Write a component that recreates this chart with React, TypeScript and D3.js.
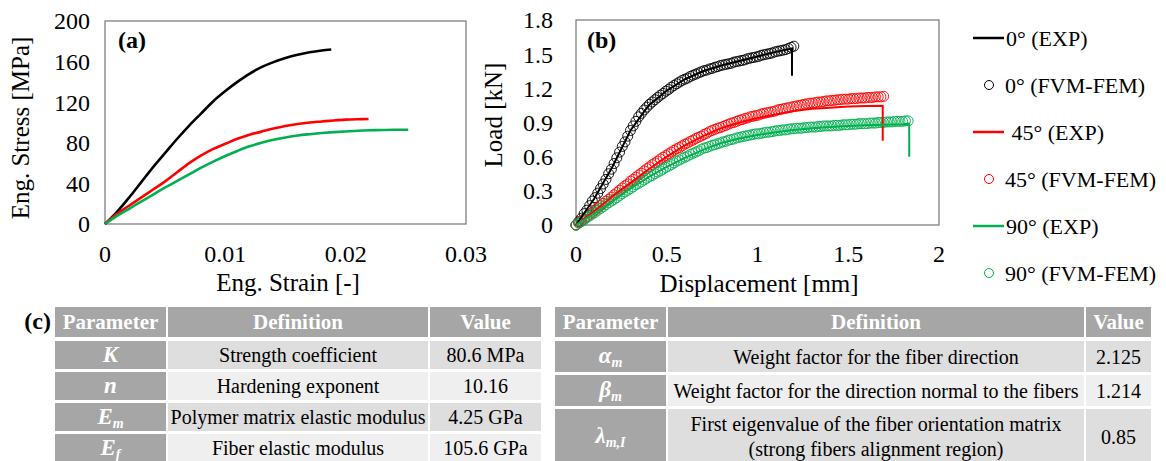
import React from "react";
import * as d3 from "d3";

const FONT = "'Liberation Serif', 'Times New Roman', serif";
const BLACK = "#000000";
const RED = "#ff0000";
const GREEN = "#00b050";
const FRAME = "#767676";

// (a) engineering stress-strain, EXP
const strain0 = [0, 0.001, 0.002, 0.003, 0.004, 0.005, 0.006, 0.007, 0.008, 0.009, 0.01, 0.011, 0.012, 0.013, 0.014, 0.015, 0.016, 0.017, 0.018, 0.0188];
const stress0 = [0, 12, 26, 41, 56, 70, 84, 97, 109, 121, 131, 140, 148, 154.5, 159.5, 163.5, 166.7, 169.2, 171, 172];
const strain45 = [0, 0.001, 0.002, 0.003, 0.004, 0.005, 0.006, 0.007, 0.008, 0.009, 0.01, 0.011, 0.012, 0.013, 0.014, 0.015, 0.016, 0.017, 0.018, 0.019, 0.02, 0.021, 0.0219];
const stress45 = [0, 10, 18, 26, 34, 42, 51, 60, 67.5, 74, 79, 84, 88, 91, 94, 96.5, 98.5, 100, 101, 102, 102.8, 103.2, 103.4];
const strain90 = [0, 0.001, 0.002, 0.003, 0.004, 0.005, 0.006, 0.007, 0.008, 0.009, 0.01, 0.011, 0.012, 0.013, 0.014, 0.015, 0.016, 0.017, 0.018, 0.019, 0.02, 0.021, 0.022, 0.023, 0.024, 0.0252];
const stress90 = [0, 8, 15, 22, 29, 36, 42.5, 49, 55.5, 61.5, 67, 72, 76.5, 80, 83, 85.3, 87.2, 88.5, 89.6, 90.5, 91.2, 91.8, 92.3, 92.6, 92.8, 92.9];

const strainTicks = [0, 0.01, 0.02, 0.03];
const stressTicks = [0, 40, 80, 120, 160, 200];

// (b) load-displacement; FVM-FEM markers share one displacement grid
const femDisp = [
  0, 0.015, 0.03, 0.045, 0.06, 0.075, 0.09, 0.105, 0.12, 0.135,
  0.15, 0.165, 0.18, 0.195, 0.21, 0.225, 0.24, 0.255, 0.27, 0.285,
  0.3, 0.315, 0.33, 0.345, 0.36, 0.375, 0.39, 0.405, 0.42, 0.435,
  0.45, 0.465, 0.48, 0.495, 0.51, 0.525, 0.54, 0.555, 0.57, 0.585,
  0.6, 0.615, 0.63, 0.645, 0.66, 0.675, 0.69, 0.705, 0.72, 0.735,
  0.75, 0.765, 0.78, 0.795, 0.81, 0.825, 0.84, 0.855, 0.87, 0.885,
  0.9, 0.915, 0.93, 0.945, 0.96, 0.975, 0.99, 1.005, 1.02, 1.035,
  1.05, 1.065, 1.08, 1.095, 1.11, 1.125, 1.14, 1.155, 1.17, 1.185,
  1.2, 1.215, 1.23, 1.245, 1.26, 1.275, 1.29, 1.305, 1.32, 1.335,
  1.35, 1.365, 1.38, 1.395, 1.41, 1.425, 1.44, 1.455, 1.47, 1.485,
  1.5, 1.515, 1.53, 1.545, 1.56, 1.575, 1.59, 1.605, 1.62, 1.635,
  1.65, 1.665, 1.68, 1.695, 1.71, 1.725, 1.74, 1.755, 1.77, 1.785,
  1.8, 1.815, 1.83,
];
const femLoad0 = [
  0, 0.03, 0.06, 0.1, 0.13, 0.17, 0.21, 0.24, 0.28, 0.32,
  0.36, 0.4, 0.45, 0.49, 0.54, 0.59, 0.64, 0.69, 0.73, 0.78,
  0.83, 0.87, 0.91, 0.95, 0.98, 1.01, 1.035, 1.06, 1.08, 1.1,
  1.12, 1.14, 1.155, 1.175, 1.19, 1.21, 1.225, 1.24, 1.255, 1.27,
  1.28, 1.29, 1.305, 1.315, 1.325, 1.335, 1.345, 1.355, 1.36, 1.37,
  1.375, 1.385, 1.39, 1.4, 1.405, 1.41, 1.415, 1.42, 1.43, 1.435,
  1.44, 1.445, 1.45, 1.46, 1.465, 1.47, 1.475, 1.48, 1.49, 1.495,
  1.5, 1.505, 1.51, 1.52, 1.525, 1.53, 1.535, 1.54, 1.55, 1.56,
  1.57,
];
const femLoad45 = [
  0, 0.02, 0.035, 0.055, 0.07, 0.095, 0.11, 0.13, 0.15, 0.17,
  0.19, 0.21, 0.225, 0.245, 0.265, 0.285, 0.305, 0.325, 0.345, 0.36,
  0.385, 0.4, 0.42, 0.44, 0.455, 0.475, 0.495, 0.51, 0.53, 0.545,
  0.56, 0.58, 0.595, 0.61, 0.625, 0.64, 0.655, 0.67, 0.68, 0.695,
  0.71, 0.72, 0.735, 0.745, 0.76, 0.77, 0.78, 0.795, 0.805, 0.82,
  0.83, 0.84, 0.85, 0.855, 0.865, 0.875, 0.885, 0.895, 0.9, 0.91,
  0.92, 0.925, 0.935, 0.94, 0.95, 0.955, 0.96, 0.965, 0.975, 0.98,
  0.985, 0.99, 0.995, 1.0, 1.01, 1.015, 1.02, 1.025, 1.03, 1.035,
  1.04, 1.045, 1.05, 1.055, 1.06, 1.065, 1.07, 1.07, 1.075, 1.08,
  1.08, 1.085, 1.09, 1.09, 1.095, 1.095, 1.1, 1.1, 1.105, 1.105,
  1.105, 1.11, 1.11, 1.11, 1.115, 1.115, 1.115, 1.12, 1.12, 1.12,
  1.125, 1.125, 1.125, 1.13,
];
const femLoad90 = [
  0, 0.015, 0.03, 0.045, 0.065, 0.08, 0.095, 0.11, 0.13, 0.145,
  0.16, 0.18, 0.195, 0.21, 0.225, 0.24, 0.26, 0.275, 0.29, 0.305,
  0.32, 0.335, 0.355, 0.365, 0.38, 0.395, 0.41, 0.425, 0.435, 0.45,
  0.465, 0.475, 0.49, 0.505, 0.515, 0.53, 0.545, 0.56, 0.57, 0.585,
  0.595, 0.605, 0.62, 0.63, 0.64, 0.65, 0.665, 0.675, 0.68, 0.69,
  0.7, 0.705, 0.715, 0.72, 0.73, 0.735, 0.745, 0.75, 0.755, 0.765,
  0.77, 0.775, 0.78, 0.785, 0.79, 0.795, 0.8, 0.8, 0.805, 0.81,
  0.815, 0.815, 0.82, 0.825, 0.83, 0.83, 0.835, 0.835, 0.84, 0.845,
  0.845, 0.85, 0.85, 0.85, 0.855, 0.855, 0.86, 0.86, 0.86, 0.865,
  0.865, 0.87, 0.87, 0.87, 0.87, 0.875, 0.875, 0.875, 0.88, 0.88,
  0.88, 0.885, 0.885, 0.885, 0.89, 0.89, 0.89, 0.89, 0.895, 0.895,
  0.895, 0.9, 0.9, 0.9, 0.905, 0.905, 0.905, 0.91, 0.91, 0.91,
  0.91, 0.915, 0.915,
];

const expDisp0 = [0, 0.1, 0.2, 0.3, 0.4, 0.5, 0.6, 0.7, 0.8, 0.9, 1.0, 1.1, 1.19, 1.19];
const expLoad0 = [0, 0.23, 0.51, 0.83, 1.05, 1.18, 1.28, 1.35, 1.4, 1.44, 1.48, 1.52, 1.55, 1.31];
const expDisp45 = [0, 0.1, 0.2, 0.3, 0.4, 0.5, 0.6, 0.7, 0.8, 0.9, 1.0, 1.1, 1.2, 1.3, 1.4, 1.5, 1.6, 1.69, 1.69];
const expLoad45 = [0, 0.12, 0.25, 0.37, 0.49, 0.6, 0.7, 0.78, 0.85, 0.9, 0.94, 0.97, 1.0, 1.02, 1.03, 1.04, 1.045, 1.047, 0.74];
const expDisp90 = [0, 0.1, 0.2, 0.3, 0.4, 0.5, 0.6, 0.7, 0.8, 0.9, 1.0, 1.1, 1.2, 1.3, 1.4, 1.5, 1.6, 1.7, 1.8, 1.836, 1.836];
const expLoad90 = [0, 0.1, 0.21, 0.32, 0.42, 0.51, 0.59, 0.66, 0.72, 0.76, 0.79, 0.815, 0.835, 0.85, 0.86, 0.87, 0.875, 0.88, 0.885, 0.89, 0.6];

const dispTicks = [0, 0.5, 1, 1.5, 2];
const loadTicks = [0, 0.3, 0.6, 0.9, 1.2, 1.5, 1.8];

// legend
const legendLabels = ["0° (EXP)", "0° (FVM-FEM)", " 45° (EXP)", "45° (FVM-FEM)", "90° (EXP)", "90° (FVM-FEM)"];
const legendColors = [BLACK, BLACK, RED, RED, GREEN, GREEN];
const legendKinds = ["line", "circle", "line", "circle", "line", "circle"];

// (c) tables
const tableHeaders = ["Parameter", "Definition", "Value"];
const table1Symbols = ["K", "n", "E", "E"];
const table1Subs = ["", "", "m", "f"];
const table1Defs = ["Strength coefficient", "Hardening exponent", "Polymer matrix elastic modulus", "Fiber elastic modulus"];
const table1Values = ["80.6 MPa", "10.16", "4.25 GPa", "105.6 GPa"];
const table2Symbols = ["α", "β", "λ"];
const table2Subs = ["m", "m", "m,I"];
const table2Defs = [
  "Weight factor for the fiber direction",
  "Weight factor for the direction normal to the fibers",
  "First eigenvalue of the fiber orientation matrix\n(strong fibers alignment region)",
];
const table2Values = ["2.125", "1.214", "0.85"];

const TICK_SIZE = 24;
const zip = (xs: number[], ys: number[]) => ys.map((v, i) => [xs[i], v] as [number, number]);

function StressPanel() {
  const x = d3.scaleLinear().domain([0, 0.03]).range([105, 466]);
  const y = d3.scaleLinear().domain([0, 200]).range([224, 21]);
  const line = d3
    .line<[number, number]>()
    .x((d) => x(d[0]))
    .y((d) => y(d[1]))
    .curve(d3.curveCatmullRom);
  const series = [
    { pts: zip(strain0, stress0), color: BLACK },
    { pts: zip(strain45, stress45), color: RED },
    { pts: zip(strain90, stress90), color: GREEN },
  ];
  return (
    <g>
      <rect x={105} y={21} width={361} height={203} fill="none" stroke={FRAME} strokeWidth={1.2} />
      {series.map((s, i) => (
        <path key={i} d={line(s.pts) || ""} fill="none" stroke={s.color} strokeWidth={2.6} />
      ))}
      {stressTicks.map((t) => (
        <text key={t} x={90} y={y(t)} dy="0.35em" textAnchor="end" fontSize={TICK_SIZE}>
          {t}
        </text>
      ))}
      {strainTicks.map((t) => (
        <text key={t} x={x(t)} y={262} textAnchor="middle" fontSize={TICK_SIZE}>
          {t}
        </text>
      ))}
      <text x={288} y={291} textAnchor="middle" fontSize={25}>
        Eng. Strain [-]
      </text>
      <text transform="translate(29,128) rotate(-90)" textAnchor="middle" fontSize={25}>
        Eng. Stress [MPa]
      </text>
      <text x={118} y={48} fontSize={24} fontWeight="bold">
        (a)
      </text>
    </g>
  );
}

function LoadPanel() {
  const x = d3.scaleLinear().domain([0, 2]).range([576, 939]);
  const y = d3.scaleLinear().domain([0, 1.8]).range([225, 20]);
  const line = d3
    .line<[number, number]>()
    .x((d) => x(d[0]))
    .y((d) => y(d[1]));
  const expSeries = [
    { pts: zip(expDisp0, expLoad0), color: BLACK },
    { pts: zip(expDisp45, expLoad45), color: RED },
    { pts: zip(expDisp90, expLoad90), color: GREEN },
  ];
  const femSeries = [
    { pts: zip(femDisp, femLoad0), color: BLACK },
    { pts: zip(femDisp, femLoad45), color: RED },
    { pts: zip(femDisp, femLoad90), color: GREEN },
  ];
  return (
    <g>
      <rect x={576} y={20} width={363} height={205} fill="none" stroke={FRAME} strokeWidth={1.2} />
      {femSeries.map((s, i) => (
        <g key={i}>
          {s.pts.map((p, j) => (
            <circle key={j} cx={x(p[0])} cy={y(p[1])} r={5} fill="none" stroke={s.color} strokeWidth={0.9} />
          ))}
        </g>
      ))}
      {expSeries.map((s, i) => (
        <path key={i} d={line(s.pts) || ""} fill="none" stroke={s.color} strokeWidth={2} />
      ))}
      {loadTicks.map((t) => (
        <text key={t} x={553} y={y(t)} dy="0.35em" textAnchor="end" fontSize={TICK_SIZE}>
          {t}
        </text>
      ))}
      {dispTicks.map((t) => (
        <text key={t} x={x(t)} y={262} textAnchor="middle" fontSize={TICK_SIZE}>
          {t}
        </text>
      ))}
      <text x={759} y={292} textAnchor="middle" fontSize={25}>
        Displacement [mm]
      </text>
      <text transform="translate(502,115) rotate(-90)" textAnchor="middle" fontSize={25}>
        Load [kN]
      </text>
      <text x={587} y={48} fontSize={24} fontWeight="bold">
        (b)
      </text>
    </g>
  );
}

function Legend() {
  const rowY = d3.scaleLinear().domain([0, 5]).range([38, 273]);
  return (
    <g fontSize={22}>
      {legendLabels.map((label, i) => {
        const cy = rowY(i);
        return (
          <g key={i}>
            {legendKinds[i] === "line" ? (
              <line x1={973} x2={1004} y1={cy} y2={cy} stroke={legendColors[i]} strokeWidth={2.5} />
            ) : (
              <circle cx={989} cy={cy} r={4.5} fill="none" stroke={legendColors[i]} strokeWidth={1} />
            )}
            <text x={legendKinds[i] === "line" ? 1006 : 1005} y={cy} dy="0.35em" style={{ whiteSpace: "pre" }}>
              {label}
            </text>
          </g>
        );
      })}
    </g>
  );
}

type TableProps = {
  x0: number;
  widths: number[];
  rowTops: number[];
  rowHeights: number[];
  symbols: string[];
  subs: string[];
  defs: string[];
  values: string[];
};

function ParamTable({ x0, widths, rowTops, rowHeights, symbols, subs, defs, values }: TableProps) {
  const gap = 2;
  const colX = widths.map((_, i) => x0 + d3.sum(widths.slice(0, i)) + gap * i);
  const headerFill = "#a6a6a6";
  const rowFills = ["#dedede", "#efefef"];
  return (
    <g>
      {tableHeaders.map((h, c) => (
        <g key={h}>
          <rect x={colX[c]} y={rowTops[0]} width={widths[c]} height={rowHeights[0]} fill={headerFill} />
          <text
            x={colX[c] + widths[c] / 2}
            y={rowTops[0] + rowHeights[0] / 2}
            dy="0.35em"
            textAnchor="middle"
            fontSize={21}
            fontWeight="bold"
            fill="#ffffff"
          >
            {h}
          </text>
        </g>
      ))}
      {defs.map((def, r) => {
        const top = rowTops[r + 1];
        const h = rowHeights[r + 1];
        const cy = top + h / 2;
        const lines = def.split("\n");
        return (
          <g key={r}>
            <rect x={colX[0]} y={top} width={widths[0]} height={h} fill={headerFill} />
            <rect x={colX[1]} y={top} width={widths[1]} height={h} fill={rowFills[r % 2]} />
            <rect x={colX[2]} y={top} width={widths[2]} height={h} fill={rowFills[r % 2]} />
            <text
              x={colX[0] + widths[0] / 2}
              y={cy}
              dy="0.3em"
              textAnchor="middle"
              fontSize={23}
              fontWeight="bold"
              fontStyle="italic"
              fill="#ffffff"
            >
              {symbols[r]}
              {subs[r] ? (
                <tspan fontSize={14} dy="4">
                  {subs[r]}
                </tspan>
              ) : null}
            </text>
            {lines.map((ln, k) => (
              <text
                key={k}
                x={colX[1] + widths[1] / 2}
                y={cy + (k - (lines.length - 1) / 2) * 25}
                dy="0.35em"
                textAnchor="middle"
                fontSize={20}
                fill="#000"
              >
                {ln}
              </text>
            ))}
            <text x={colX[2] + widths[2] / 2} y={cy} dy="0.35em" textAnchor="middle" fontSize={20} fill="#000">
              {values[r]}
            </text>
          </g>
        );
      })}
    </g>
  );
}

export default function App() {
  return (
    <svg
      width={1166}
      height={461}
      style={{ position: "absolute", left: 0, top: 0, background: "#ffffff" }}
      fontFamily={FONT}
    >
      <StressPanel />
      <LoadPanel />
      <Legend />
      <text x={51} y={321} dy="0.35em" textAnchor="end" fontSize={24} fontWeight="bold">
        (c)
      </text>
      <ParamTable
        x0={55}
        widths={[111, 260, 111]}
        rowTops={[307, 341, 372, 403, 434]}
        rowHeights={[30, 28, 28, 28, 28]}
        symbols={table1Symbols}
        subs={table1Subs}
        defs={table1Defs}
        values={table1Values}
      />
      <ParamTable
        x0={555}
        widths={[111, 416, 65]}
        rowTops={[307, 341, 375, 409]}
        rowHeights={[30, 31, 31, 55]}
        symbols={table2Symbols}
        subs={table2Subs}
        defs={table2Defs}
        values={table2Values}
      />
    </svg>
  );
}
